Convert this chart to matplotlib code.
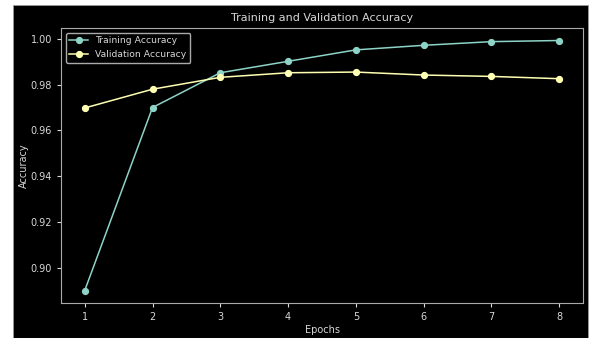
import matplotlib
matplotlib.use("Agg")
import matplotlib.pyplot as plt
from matplotlib.patches import Rectangle

epochs = [1, 2, 3, 4, 5, 6, 7, 8]
train_acc = [0.8900, 0.9700, 0.9852, 0.9902, 0.9952, 0.9972, 0.9988, 0.9993]
val_acc = [0.9698, 0.9780, 0.9832, 0.9852, 0.9855, 0.9842, 0.9836, 0.9826]
yticks = [0.90, 0.92, 0.94, 0.96, 0.98, 1.00]

plt.style.use("dark_background")
fig = plt.figure(figsize=(5.97, 3.38), dpi=100, facecolor="white")
fig.patches.append(Rectangle((13/597, 0), (588-13)/597, 1 - 5/338,
                             transform=fig.transFigure, facecolor="black",
                             edgecolor="#999999", linewidth=0.6, zorder=-5))
ax = fig.add_axes([61/597, 1 - 303/338, (583-61)/597, (303-28)/338])
ax.set_zorder(2)
ax.set_facecolor("black")

fs = 7
txt = "#d8d8d8"
ax.plot(epochs, train_acc, marker="o", color="#8dd3c7", markersize=4.2,
        linewidth=1.1, label="Training Accuracy")
ax.plot(epochs, val_acc, marker="o", color="#feffb3", markersize=4.2,
        linewidth=1.1, label="Validation Accuracy")
ax.set_xticks(epochs)
ax.set_yticks(yticks)
ax.set_yticklabels([f"{v:.2f}" for v in yticks])
ax.tick_params(colors=txt, labelsize=fs, length=3)
for s in ax.spines.values():
    s.set_color("#aaaaaa")
ax.set_title("Training and Validation Accuracy", fontsize=8, color=txt, pad=5)
ax.set_xlabel("Epochs", fontsize=fs, color=txt, labelpad=2)
ax.set_ylabel("Accuracy", fontsize=fs, color=txt, labelpad=1)
leg = ax.legend(loc="upper left", fontsize=6.7, facecolor="black",
                edgecolor="#aaaaaa", framealpha=1)
for t in leg.get_texts():
    t.set_color(txt)
fig.savefig("out.png", dpi=100, facecolor="white")
